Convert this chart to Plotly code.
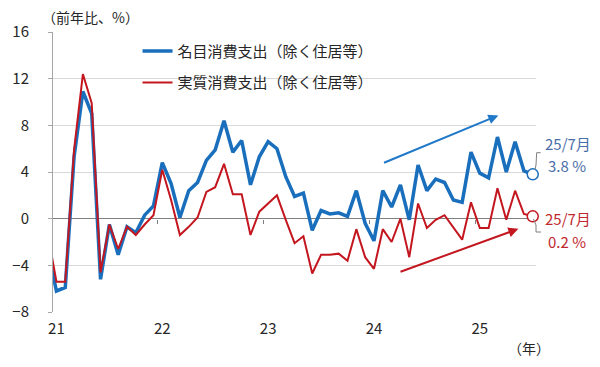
import plotly.graph_objects as go

# Months from Dec 2020 (partly clipped at the axis) to Jul 2025
months = ["2020-12"] + [f"{y}-{m:02d}" for y in range(2021, 2026) for m in range(1, 13)]
months = months[: months.index("2025-07") + 1]

nominal = [-2.6,
           -6.2, -5.9, 5.3, 10.9, 9.0, -5.2, -0.5, -3.1, -0.7, -1.2, 0.3, 1.1,
           4.8, 3.0, 0.1, 2.4, 3.1, 5.0, 5.9, 8.4, 5.7, 6.7, 2.9, 5.3,
           6.6, 6.0, 3.6, 1.9, 2.2, -1.0, 0.7, 0.4, 0.5, 0.2, 2.4, -0.4,
           -1.9, 2.4, 1.0, 2.9, -0.1, 4.6, 2.4, 3.4, 3.1, 1.6, 1.4, 5.7,
           3.9, 3.5, 7.0, 4.0, 6.6, 4.1, 3.8]
real = [-1.2,
        -5.4, -5.4, 5.9, 12.4, 9.9, -4.6, -0.5, -2.6, -0.7, -1.4, -0.5, 0.3,
        4.2, 1.6, -1.4, -0.7, 0.1, 2.3, 2.7, 4.7, 2.1, 2.1, -1.4, 0.6,
        1.3, 2.0, -0.1, -2.1, -1.5, -4.7, -3.1, -3.1, -3.0, -3.6, -0.9, -3.3,
        -4.3, -0.9, -2.0, 0.0, -3.3, 1.3, -0.8, -0.1, 0.3, -0.7, -1.8, 1.4,
        -0.8, -0.8, 2.6, -0.1, 2.4, 0.4, 0.2]

series_names = ["名目消費支出（除く住居等）", "実質消費支出（除く住居等）"]
year_ticks = ["21", "22", "23", "24", "25"]
y_ticks = [-8, -4, 0, 4, 8, 12, 16]

# position index: Jan 2021 = 0
xpos = [i - 1 for i in range(len(months))]
year_pos = [months.index(f"20{t}-01") - 1 for t in year_ticks]
year_bounds = [p - 0.5 for p in year_pos[1:]]

BLUE = "#1a6fbd"
RED = "#c3161f"
BLUE_TXT = "#4a6ea8"
RED_TXT = "#c0282d"
FONT = "Noto Sans CJK JP"

fig = go.Figure()
fig.add_trace(go.Scatter(x=xpos, y=nominal, mode="lines", name=series_names[0],
                         line=dict(color=BLUE, width=3.5), legendgroup="a"))
fig.add_trace(go.Scatter(x=xpos, y=real, mode="lines", name=series_names[1],
                         line=dict(color=RED, width=2), legendgroup="b"))
fig.add_trace(go.Scatter(x=[xpos[-1]], y=[nominal[-1]], mode="markers", showlegend=False,
                         cliponaxis=False,
                         marker=dict(size=11, color="white", line=dict(color=BLUE, width=1.5))))
fig.add_trace(go.Scatter(x=[xpos[-1]], y=[real[-1]], mode="markers", showlegend=False,
                         cliponaxis=False,
                         marker=dict(size=11, color="white", line=dict(color=RED, width=1.5))))
# invisible trace to carry the zero-line tick axis
fig.add_trace(go.Scatter(x=[xpos[0]], y=[0], xaxis="x2", mode="markers", showlegend=False,
                         hoverinfo="skip", marker=dict(opacity=0)))


def txt(text, x, y, size, color):
    return dict(text=text, x=x, y=y, xref="paper", yref="paper", xanchor="center",
                yanchor="middle", showarrow=False,
                font=dict(size=size, color=color, family=FONT))


annotations = [
    txt("（前年比、%）", (90 - 53) / 483, (312 - 17) / 280, 14, "#262626"),
    txt("（年）", (529 - 53) / 483, (312 - 348) / 280, 14, "#262626"),
    txt("25/7月", (568 - 53) / 483, (312 - 143) / 280, 15, BLUE_TXT),
    txt(f"{nominal[-1]} %", (567 - 53) / 483, (312 - 165) / 280, 15, BLUE_TXT),
    txt("25/7月", (568 - 53) / 483, (312 - 218) / 280, 15, RED_TXT),
    txt(f"{real[-1]} %", (567 - 53) / 483, (312 - 241) / 280, 15, RED_TXT),
    # trend arrows
    dict(x=50.1, y=8.85, ax=36.97, ay=4.74, xref="x", yref="y", axref="x", ayref="y",
         text="", showarrow=True, arrowhead=2, arrowsize=1, arrowwidth=2, arrowcolor="#1f78c8"),
    dict(x=52.37, y=-0.87, ax=38.84, ay=-4.6, xref="x", yref="y", axref="x", ayref="y",
         text="", showarrow=True, arrowhead=2, arrowsize=1, arrowwidth=2, arrowcolor=RED),
]

shapes = [
    dict(type="path", xref="paper", yref="paper",
         path="M 0.998 0.5096 L 1.0 0.525 L 1.0014 0.569 L 1.0097 0.569",
         line=dict(color="#7f7f7f", width=1)),
    dict(type="path", xref="paper", yref="paper",
         path="M 0.9948 0.332 L 1.0 0.3107 L 1.0 0.2857 L 1.0104 0.2857",
         line=dict(color="#7f7f7f", width=1)),
]

# the page adds an 8px body margin, so the figure is offset by 8px
fig.update_layout(
    width=600, height=367,
    margin=dict(l=44.5, r=72, t=23.5, b=63, autoexpand=False),
    paper_bgcolor="white", plot_bgcolor="white",
    font=dict(family=FONT, size=14, color="#262626"),
    showlegend=True,
    legend=dict(x=0.175, y=0.99, xanchor="left", yanchor="top",
                bgcolor="rgba(0,0,0,0)", tracegroupgap=9, traceorder="grouped",
                font=dict(size=15, color="#262626", family=FONT)),
    annotations=annotations,
    shapes=shapes,
    xaxis=dict(range=[-0.39, 54.37], tickmode="array", tickvals=year_pos, ticktext=year_ticks,
               showgrid=False, zeroline=False, showline=False, ticks="",
               ticklabelstandoff=6, tickfont=dict(size=15, color="#262626")),
    xaxis2=dict(range=[-0.39, 54.37], overlaying="x", anchor="free",
                position=(0 - y_ticks[0]) / (y_ticks[-1] - y_ticks[0]), side="bottom",
                tickmode="array", tickvals=year_bounds, showticklabels=False,
                ticks="outside", ticklen=4, tickcolor="#7f7f7f",
                showgrid=False, zeroline=False, showline=False),
    yaxis=dict(range=[-8, 16], tickmode="array", tickvals=y_ticks,
               showgrid=True, gridcolor="#d9d9d9", gridwidth=1,
               zeroline=True, zerolinecolor="#7f7f7f", zerolinewidth=1,
               showline=True, linecolor="#a6a6a6", linewidth=1,
               ticks="outside", ticklen=4, tickcolor="#a6a6a6",
               ticklabelstandoff=16, tickfont=dict(size=15, color="#262626")),
)

fig.write_html("out.html")
